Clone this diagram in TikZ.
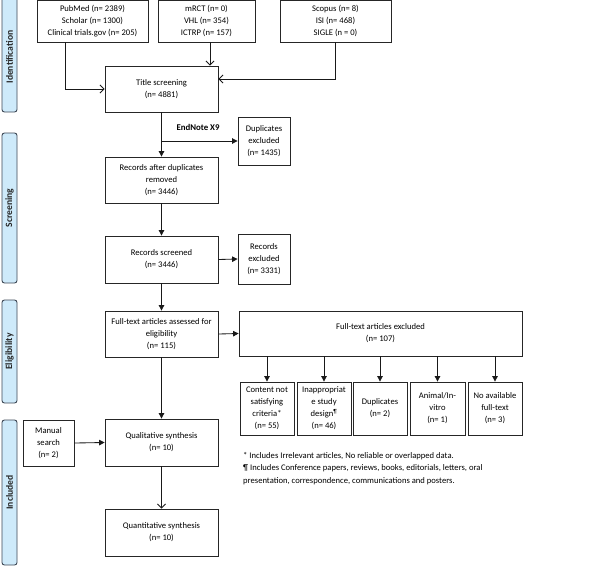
\documentclass[tikz,border=0pt]{standalone}
\usepackage{fontspec}
\setmainfont{Carlito}
\usetikzlibrary{arrows.meta,calc}
\definecolor{phasefill}{RGB}{206,234,250}
\definecolor{phasedraw}{RGB}{62,72,86}
\begin{document}
\begin{tikzpicture}[x=1pt,y=-1pt,
  box/.style={draw=black!85, line width=0.85pt, fill=white, inner sep=0pt, align=center,
    font=\fontsize{8.6}{12}\selectfont},
  wide/.style={minimum width=113pt},
  phase/.style={draw=phasedraw, line width=0.9pt, fill=phasefill, rounded corners=2.5pt},
  phlabel/.style={rotate=90, font=\bfseries\fontsize{9.6}{11}\selectfont, text=black!85},
  fill arr/.style={-{Triangle[length=5.5pt,width=5.5pt]}, line width=0.85pt, draw=black!90},
  open arr/.style={-{Straight Barb[length=4pt,width=8pt]}, line width=0.85pt, draw=black!90}
]
\useasboundingbox (0,0) rectangle (605,566);
\fill[white] (0,0) rectangle (605,566);

% phase bars
\draw[phase] (2,-4) rectangle (17,112);
\node[phlabel] (idl) at (9.5,57) {Identification};
\draw[phase] (2,133) rectangle (17,283);
\node[phlabel] (scl) at (9.5,208) {Screening};
\draw[phase] (2,300) rectangle (17,403);
\node[phlabel] (ell) at (9.5,351.5) {Eligibility};
\draw[phase] (2,420) rectangle (17,565);
\node[phlabel] (inl) at (9.5,492.5) {Included};

% top sources
\node[box, minimum width=111pt, minimum height=42pt] (pub) at (92.5,21) {PubMed (n= 2389)\\Scholar (n= 1300)\\Clinical trials.gov (n= 205)};
\node[box, minimum width=97pt, minimum height=42pt] (mrct) at (206.5,21) {mRCT (n= 0)\\VHL (n= 354)\\ICTRP (n= 157)};
\node[box, minimum width=111pt, minimum height=42pt] (sco) at (335.5,21) {Scopus (n= 8)\\ISI (n= 468)\\SIGLE (n = 0)};

% main column
\node[box, wide, minimum height=46pt] (title) at (161.5,89) {Title screening\\(n= 4881)};
\node[box, minimum width=52pt, minimum height=48pt] (dup) at (264,141) {Duplicates\\excluded\\(n= 1435)};
\node[box, wide, minimum height=46pt] (rad) at (161.5,180) {Records after duplicates\\removed\\(n= 3446)};
\node[box, wide, minimum height=47pt] (rs) at (161.5,259.5) {Records screened\\(n= 3446)};
\node[box, minimum width=52pt, minimum height=50pt] (rex) at (264,259) {Records\\excluded\\(n= 3331)};
\node[box, wide, minimum height=46pt] (ft) at (161.5,334) {Full-text articles assessed for\\eligibility\\(n= 115)};
\node[box, minimum width=283pt, minimum height=45pt] (fte) at (380.5,333.5) {Full-text articles excluded\\(n= 107)};

% sub boxes
\node[box, minimum width=54pt, minimum height=53pt] (s1) at (267,408.5) {Content not\\satisfying\\criteria*\\(n= 55)};
\node[box, minimum width=54pt, minimum height=53pt] (s2) at (324,408.5) {Inappropriat\\e study\\design\textsuperscript{¶}\\(n= 46)};
\node[box, minimum width=54pt, minimum height=53pt] (s3) at (380,408.5) {Duplicates\\(n= 2)};
\node[box, minimum width=55pt, minimum height=53pt] (s4) at (437.5,408.5) {Animal/In-\\vitro\\(n= 1)};
\node[box, minimum width=54pt, minimum height=53pt] (s5) at (495,408.5) {No available\\full-text\\(n= 3)};

\node[box, wide, minimum height=47pt] (qual) at (161.5,442.5) {Qualitative synthesis\\(n= 10)};
\node[box, minimum width=51pt, minimum height=46pt] (man) at (48.5,443) {Manual\\search\\(n= 2)};
\node[box, wide, minimum height=47pt] (quant) at (161.5,532.5) {Quantitative synthesis\\(n= 10)};

\node[font=\bfseries\fontsize{8.8}{12}\selectfont] (en) at (198,127) {EndNote X9};

\node[anchor=north west, align=left, inner sep=0pt, font=\fontsize{8.6}{12.5}\selectfont] (fn) at (243,452)
 {* Includes Irrelevant articles, No reliable or overlapped data.\\
  ¶ Includes Conference papers, reviews, books, editorials, letters, oral\\
  presentation, correspondence, communications and posters.};

% connectors
\coordinate (p1) at (65,0);
\coordinate (p2) at (210,0);
\coordinate (p3) at (0,79);
\draw[open arr] (p1 |- pub.south) |- (title.west);
\draw[open arr] (p2 |- mrct.south) -- (p2 |- title.north);
\draw[open arr] (sco.south) |- (title.east |- p3);

\draw[fill arr] (title.south) -- (rad.north);
\draw[fill arr] (title.south |- dup.west) -- (dup.west);
\draw[fill arr] (rad.south) -- (rs.north);
\draw[fill arr] (rs.east) -- (rex.west);
\draw[fill arr] (rs.south) -- (ft.north);
\draw[fill arr] (ft.east) -- (fte.west);
\foreach \s in {s1,s2,s3,s4,s5}{
  \draw[fill arr] (fte.south -| \s.north) -- (\s.north);
}
\draw[fill arr] (ft.south) -- (qual.north);
\draw[fill arr] (man.east) -- (qual.west);
\draw[open arr] (qual.south) -- (quant.north);
\end{tikzpicture}
\end{document}
